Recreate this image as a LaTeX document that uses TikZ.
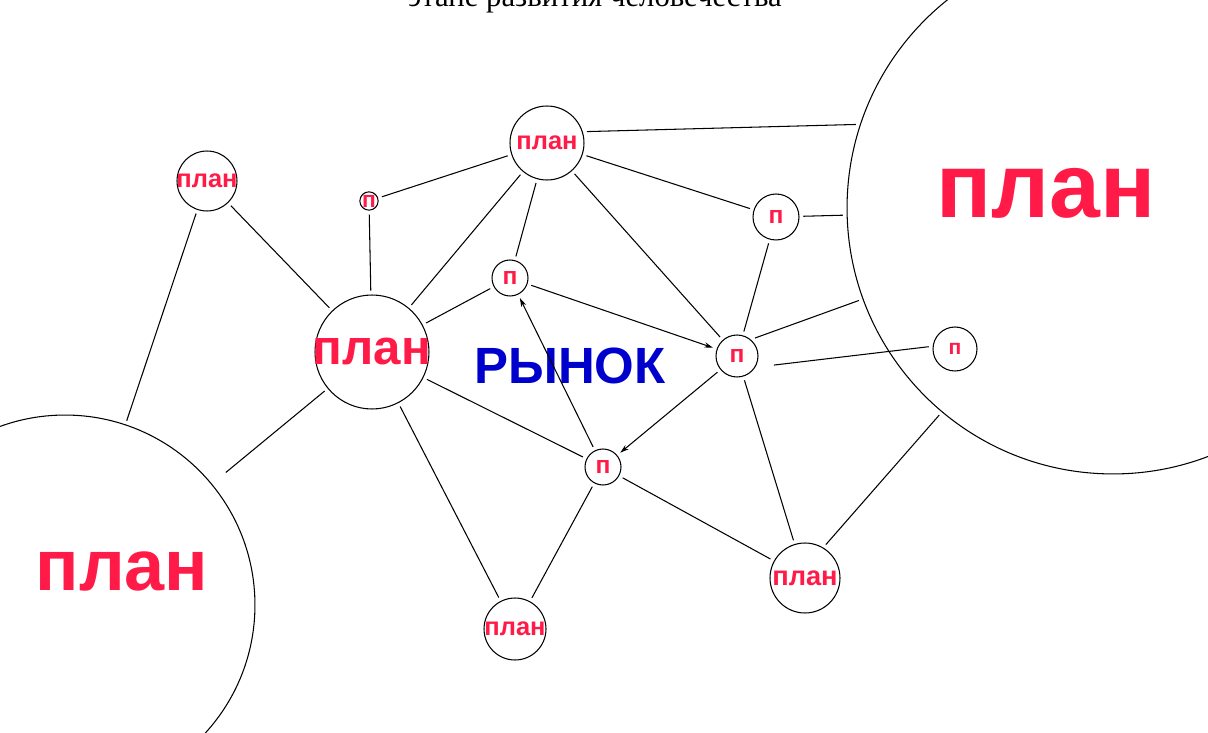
\documentclass[tikz,border=0pt]{standalone}
\usepackage{fontspec}
\setmainfont{Liberation Serif}
\newfontfamily\plfont{Liberation Sans}
\usetikzlibrary{arrows.meta}
\definecolor{planred}{RGB}{255,26,71}
\definecolor{marketblue}{RGB}{0,0,204}
\newcommand{\plsize}[1]{\fontsize{#1}{#1}\selectfont}
\tikzset{every edge/.style={draw,line width=0.6pt},
	>={Stealth[length=5pt,width=3pt]}}
\tikzstyle{unit}=[circle,draw=black,line width=0.6pt,inner sep=0pt,outer sep=2.5pt]
\tikzstyle{word}=[text=planred,inner sep=0pt]
\tikzstyle{market}=[text=marketblue,inner sep=0pt,font=\plfont\bfseries\plsize{29}]

\begin{document}
\begin{tikzpicture}[x=0.02cm,y=-0.02cm]
	\useasboundingbox (0,0) rectangle (1208,733);
	\clip (0,0) rectangle (1208,733);
	\node at (595,7) [anchor=base,font=\plsize{17.5}] (title) {этапе развития человечества};
	
	% big plans
	\node at (65,605) [unit,minimum size=7.6cm] (L) {};
	\node at (1113,208) [unit,minimum size=10.64cm] (R) {};
	\node at (122,571) [word,font=\plfont\bfseries\plsize{41}] (Lw) {план};
	\node at (1046,193) [word,font=\plfont\bfseries\plsize{52}] (Rw) {план};
	
	% small plans
	\node at (372,352) [unit,minimum size=2.28cm,label={[word,font=\plfont\bfseries\plsize{28}]center:план}] (M) {};
	\node at (547,143) [unit,minimum size=1.48cm,label={[word,font=\plfont\bfseries\plsize{14.5}]center:план}] (tp) {};
	\node at (207,181) [unit,minimum size=1.2cm,label={[word,font=\plfont\bfseries\plsize{14.5}]center:план}] (lp) {};
	\node at (515,629) [unit,minimum size=1.24cm,label={[word,font=\plfont\bfseries\plsize{14.5}]center:план}] (bp) {};
	\node at (805,578) [unit,minimum size=1.4cm,label={[word,font=\plfont\bfseries\plsize{15.5}]center:план}] (brp) {};
	
	% market units
	\node at (776,217) [unit,minimum size=0.92cm,word,font=\plfont\bfseries\plsize{14}] (pa) {п};
	\node at (510,278) [unit,minimum size=0.72cm,word,font=\plfont\bfseries\plsize{14}] (pb) {п};
	\node at (737,356) [unit,minimum size=0.84cm,word,font=\plfont\bfseries\plsize{14}] (pc) {п};
	\node at (603,467) [unit,minimum size=0.72cm,word,font=\plfont\bfseries\plsize{14}] (pd) {п};
	\node at (955,349) [unit,minimum size=0.88cm,word,font=\plfont\bfseries\plsize{12}] (pe) {п};
	\node at (369,201) [unit,minimum size=0.36cm,word,font=\plfont\bfseries\plsize{13}] (ps) {п};
	
	\node at (570,366) [market] (mk) {РЫНОК};
	
	\draw (lp) edge (L);
	\draw (lp) edge (M);
	\draw (ps) edge (M);
	\draw (ps) edge (tp);
	\draw (tp.16) edge (R.162);
	\draw (tp) edge (pa);
	\draw (tp) edge (M);
	\draw (tp) edge (pb);
	\draw (tp) edge (pc);
	\draw (pa) edge (R);
	\draw (pa) edge (pc);
	\draw (pb) edge (M);
	\draw (pb) edge[->] (pc);
	\draw (pd) edge[->] (pb);
	\draw (pc) edge[->] (pd);
	\draw (M) edge[shorten >=8pt] (L);
	\draw (M) edge (pd);
	\draw (M) edge (bp);
	\draw (pd) edge (bp);
	\draw (pd) edge (brp);
	\draw (pc.45) edge (R.200);
	\draw (pc.-25) edge[shorten <=8pt] (pe.175);
	\draw (pc) edge (brp);
	\draw (brp.58) edge (R.230);
\end{tikzpicture}
\end{document}
